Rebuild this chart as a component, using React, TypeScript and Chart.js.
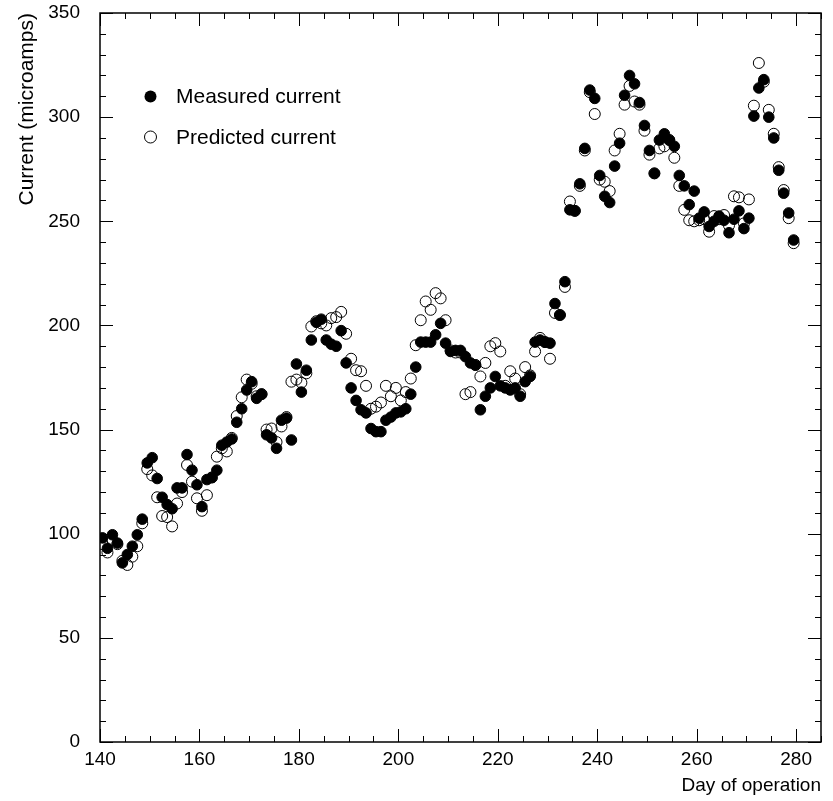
import { useEffect, useRef } from 'react';
import { Chart, registerables } from 'chart.js';

Chart.register(...registerables);

// day index of each reading (plotted at the centre of the day, as in the original histogram-style plot)
const days = [
  140, 141, 142, 143, 144, 145, 146, 147, 148, 149,
  150, 151, 152, 153, 154, 155, 156, 157, 158, 159,
  160, 161, 162, 163, 164, 165, 166, 167, 168, 169,
  170, 171, 172, 173, 174, 175, 176, 177, 178, 179,
  180, 181, 182, 183, 184, 185, 186, 187, 188, 189,
  190, 191, 192, 193, 194, 195, 196, 197, 198, 199,
  200, 201, 202, 203, 204, 205, 206, 207, 208, 209,
  210, 211, 212, 213, 214, 215, 216, 217, 218, 219,
  220, 221, 222, 223, 224, 225, 226, 227, 228, 229,
  230, 231, 232, 233, 234, 235, 236, 237, 238, 239,
  240, 241, 242, 243, 244, 245, 246, 247, 248, 249,
  250, 251, 252, 253, 254, 255, 256, 257, 258, 259,
  260, 261, 262, 263, 264, 265, 266, 267, 268, 269,
  270, 271, 272, 273, 274, 275, 276, 277, 278, 279,
];

const measured = [
  98, 93, 99.5, 95.5, 86, 90, 94, 99.5, 107, 134,
  136.5, 126.5, 117.5, 114, 112, 122, 122, 138, 130.5, 123.5,
  113, 126, 127, 130.5, 142.5, 144, 145.5, 153.5, 160, 169,
  173, 165, 167, 147.5, 146, 141, 154.5, 155.5, 145, 181.5,
  168, 178.5, 193, 201.5, 203, 193, 191, 190, 197.5, 182,
  170, 164, 159.5, 158, 150.5, 149, 149, 154.5, 156, 158,
  158.5, 160, 167, 180, 192, 192, 192, 195.5, 201, 191.5,
  187.5, 188, 188, 185, 182, 181, 159.5, 166, 170, 175.5,
  171, 170, 169, 170, 166, 173, 175.5, 192, 193, 192,
  191.5, 210.5, 205, 221, 255.5, 255, 268, 285, 313, 309,
  272, 262, 259, 276.5, 287.5, 310.5, 320, 316, 307, 296,
  284, 273, 289, 292, 289, 286, 272, 267, 258, 264.5,
  251.5, 254.5, 247.5, 250, 252.5, 250.5, 244.5, 251, 255, 246.5,
  251.5, 300.5, 314, 318, 300, 290, 274.5, 263.5, 254, 241,
];

const predicted = [
  95, 91, 97, 95, 87, 85, 89, 94, 105, 131,
  128, 117.5, 108.5, 108, 103.5, 114.5, 120, 133, 125, 117,
  111, 118.5, 127, 137, 141, 139.5, 146, 156.5, 165.5, 174,
  172, 166, 167, 150, 150.5, 144, 151.5, 156, 173, 174,
  172.5, 177, 199.5, 202, 201, 200, 203.5, 204, 206.5, 196,
  184, 178.5, 178, 171, 160, 161, 163, 171, 166, 170,
  164, 168, 174.5, 190.5, 202.5, 211.5, 207.5, 215.5, 213, 202.5,
  188, 187, 187, 167, 168, 181, 175.5, 182, 190, 191.5,
  187.5, 171, 178, 174.5, 167, 180, 176, 187.5, 194, 192,
  184, 206, 205, 218.5, 259.5, 255, 267, 284, 312, 301.5,
  270, 269, 264.5, 284, 292, 306, 315, 307.5, 306, 293.5,
  282, 273, 285, 286, 289, 280.5, 267, 255.5, 250.5, 250,
  250.5, 251, 245, 252.5, 251, 253, 248, 262, 261.5, 249,
  260.5, 305.5, 326, 317, 303.5, 292, 276, 265, 251.5, 239.5,
];

const xTickValues = [140, 160, 180, 200, 220, 240, 260, 280];
const yTickValues = [0, 50, 100, 150, 200, 250, 300, 350];

const FONT = 'Liberation Sans, Arial, Helvetica, sans-serif';

const framePlugin = {
  id: 'rootFrame',
  afterDraw(chart: any) {
    const { ctx, chartArea: a, scales } = chart;
    const xs = scales.x;
    const ys = scales.y;
    ctx.save();
    ctx.strokeStyle = '#000';
    ctx.lineWidth = 1;
    ctx.beginPath();
    for (let v = 140; v <= 285; v += 5) {
      const px = Math.round(xs.getPixelForValue(v)) + 0.5;
      const len = v % 20 === 0 ? 13 : 6;
      ctx.moveTo(px, a.bottom);
      ctx.lineTo(px, a.bottom - len);
      ctx.moveTo(px, a.top);
      ctx.lineTo(px, a.top + len);
    }
    for (let v = 0; v <= 350; v += 10) {
      const py = Math.round(ys.getPixelForValue(v)) + 0.5;
      const len = v % 50 === 0 ? 13 : 6;
      ctx.moveTo(a.left, py);
      ctx.lineTo(a.left + len, py);
      ctx.moveTo(a.right, py);
      ctx.lineTo(a.right - len, py);
    }
    ctx.stroke();
    ctx.lineWidth = 1.5;
    ctx.strokeRect(a.left, a.top, a.right - a.left, a.bottom - a.top);

    // legend inside the frame
    const items = chart.data.datasets;
    const rows = [96.5, 137];
    ctx.font = `21px ${FONT}`;
    ctx.textBaseline = 'middle';
    ctx.textAlign = 'left';
    ctx.fillStyle = '#000';
    items.forEach((ds: any, i: number) => {
      const cy = rows[i];
      ctx.beginPath();
      ctx.arc(150.5, cy, 6, 0, Math.PI * 2);
      if (i === 0) {
        ctx.fill();
      } else {
        ctx.lineWidth = 1;
        ctx.stroke();
      }
      ctx.fillText(ds.label, 176, cy + 1);
    });
    ctx.restore();
  },
};

export default function App() {
  const ref = useRef<HTMLCanvasElement | null>(null);

  useEffect(() => {
    if (!ref.current) return;
    const measuredPts = days.map((d, i) => ({ x: d + 0.5, y: measured[i] }));
    const predictedPts = days.map((d, i) => ({ x: d + 0.5, y: predicted[i] }));
    const chart = new Chart(ref.current, {
      type: 'scatter',
      data: {
        datasets: [
          {
            label: 'Measured current',
            data: measuredPts,
            pointRadius: 5.3,
            pointBorderWidth: 1,
            pointBackgroundColor: '#000',
            pointBorderColor: '#000',
            showLine: false,
          },
          {
            label: 'Predicted current',
            data: predictedPts,
            pointRadius: 5.5,
            pointBorderWidth: 1,
            pointBackgroundColor: 'rgba(0,0,0,0)',
            pointBorderColor: '#000',
            showLine: false,
          },
        ],
      },
      options: {
        responsive: false,
        animation: false,
        layout: { padding: { top: 13, right: 12, left: 0, bottom: 0 } },
        plugins: { legend: { display: false }, tooltip: { enabled: false } },
        scales: {
          x: {
            type: 'linear',
            min: 140,
            max: 285,
            grid: { display: false, drawTicks: false },
            border: { display: false },
            afterBuildTicks: (s: any) => {
              s.ticks = xTickValues.map((v) => ({ value: v }));
            },
            afterFit: (s: any) => {
              s.height = 59;
              s.paddingLeft = 0;
              s.paddingRight = 0;
            },
            ticks: {
              autoSkip: false,
              maxRotation: 0,
              padding: 6,
              color: '#000',
              font: { family: FONT, size: 19 },
            },
            title: {
              display: true,
              text: 'Day of operation',
              align: 'end',
              color: '#000',
              font: { family: FONT, size: 19 },
              padding: { top: 0, bottom: 4 },
            },
          },
          y: {
            type: 'linear',
            min: 0,
            max: 350,
            grid: { display: false, drawTicks: false },
            border: { display: false },
            afterBuildTicks: (s: any) => {
              s.ticks = yTickValues.map((v) => ({ value: v }));
            },
            afterFit: (s: any) => {
              s.width = 100;
              s.paddingTop = 0;
              s.paddingBottom = 0;
            },
            ticks: {
              autoSkip: false,
              padding: 20,
              color: '#000',
              font: { family: FONT, size: 19 },
            },
            title: {
              display: true,
              text: 'Current (microamps)',
              align: 'end',
              color: '#000',
              font: { family: FONT, size: 21 },
              padding: { top: 15, bottom: 0 },
            },
          },
        },
      },
      plugins: [framePlugin],
    });
    return () => chart.destroy();
  }, []);

  return (
    <div style={{ position: 'absolute', left: 0, top: 0, width: 833, height: 801, background: '#fff' }}>
      <canvas ref={ref} width={833} height={801} style={{ display: 'block' }} />
    </div>
  );
}
